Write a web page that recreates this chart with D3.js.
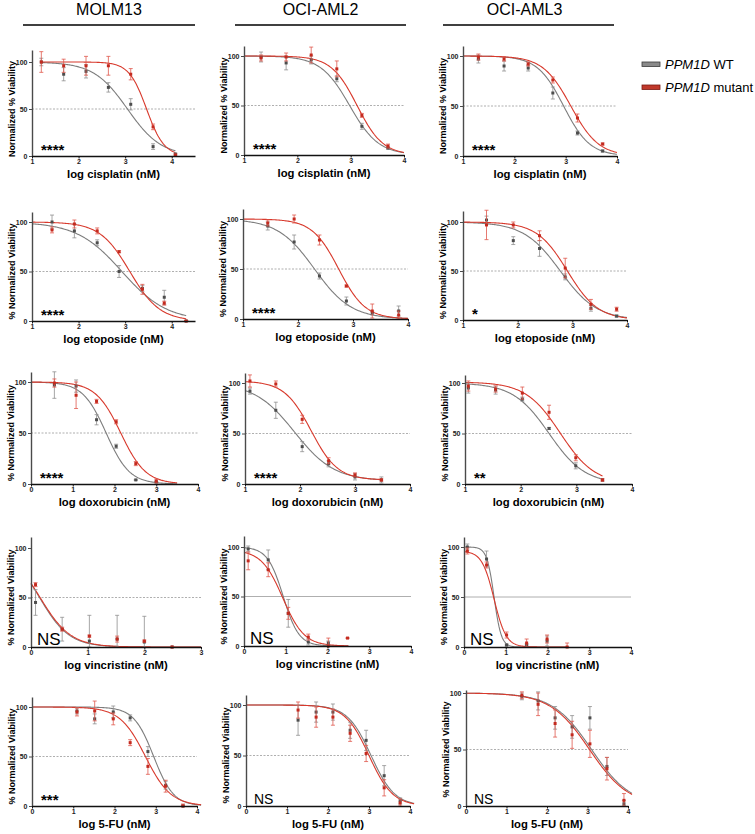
<!DOCTYPE html>
<html>
<head>
<meta charset="utf-8">
<script src="https://cdn.jsdelivr.net/npm/d3@7"></script>
<style>
body { margin: 0; background: #fff; }
svg { font-family: "Liberation Sans", Arial, Helvetica, sans-serif; }
</style>
</head>
<body>
<svg id="chart" width="755" height="834"></svg>
<script>
// ---- data (row = drug, column = cell line) ----
var cellLines = ["MOLM13", "OCI-AML2", "OCI-AML3"];
var drugs = ["cisplatin", "etoposide", "doxorubicin", "vincristine", "5-FU"];
var seriesNames = ["WT", "mutant"];

var yLabels = [
	"Normalized % Viability", "Normalized % Viability", "Normalized % Viability",
	"% Normalized Viability", "% Normalized Viability", "% Normalized Viability",
	"% Normalized Viability", "% Normalized Viability", "% Normalized Viability",
	"% Normalized Viability", "% Normalized Viability", "% Normalized Viability",
	"% Normalized Viability", "% Normalized Viability", "% Normalized Viability"
];

var significance = ["****", "****", "****", "****", "****", "*", "****", "****", "**",
	"NS", "NS", "NS", "***", "NS", "NS"];

var xDomains = [[1, 4.5], [1, 4], [1, 4], [1, 4.5], [1, 4], [1, 4], [0, 4], [1, 4], [1, 4],
	[0, 3], [0, 4], [0, 4], [0, 4], [0, 4], [0, 4]];

var xTicks = [[1, 2, 3, 4], [1, 2, 3, 4], [1, 2, 3, 4], [1, 2, 3, 4], [1, 2, 3, 4], [1, 2, 3, 4],
	[0, 1, 2, 3, 4], [1, 2, 3, 4], [1, 2, 3, 4], [0, 1, 2, 3], [0, 1, 2, 3, 4], [0, 1, 2, 3, 4],
	[0, 1, 2, 3, 4], [0, 1, 2, 3, 4], [0, 1, 2, 3, 4]];

// log dose (nM)
var doses = [
	[1.2, 1.68, 2.16, 2.64, 3.12, 3.6, 4.08],
	[1.32, 1.79, 2.26, 2.74, 3.21, 3.7],
	[1.3, 1.8, 2.27, 2.75, 3.23, 3.72],
	[1.43, 1.91, 2.4, 2.87, 3.37, 3.84, 4.31],
	[1.45, 1.93, 2.39, 2.88, 3.35, 3.83],
	[1.43, 1.92, 2.4, 2.87, 3.34, 3.81],
	[0.56, 1.08, 1.57, 2.04, 2.51, 3.0],
	[1.09, 1.56, 2.04, 2.52, 3.0, 3.48],
	[1.06, 1.55, 2.03, 2.51, 2.99, 3.47],
	[0.08, 0.55, 1.03, 1.52, 2.0, 2.49],
	[0.1, 0.58, 1.06, 1.54, 2.02, 2.48],
	[0.08, 0.54, 1.02, 1.5, 1.99, 2.47],
	[1.09, 1.52, 1.97, 2.38, 2.81, 3.24, 3.66],
	[1.27, 1.71, 2.12, 2.54, 2.93, 3.37, 3.76],
	[1.38, 1.78, 2.2, 2.62, 3.06, 3.48, 3.9]
];

var wtMean = [
	[100, 87, 90, 73, 55, 10, 2],
	[99, 93, 96, 77, 29, 7],
	[97, 90, 88, 63, 23, 5],
	[100, 91, 79, 50, 33, 24, 0],
	[93, 77, 43, 18, 6, 8],
	[102, 81, 73, 44, 12, 4],
	[97, 96, 63, 37, 4, 2],
	[92, 73, 37, 20, 7, 4],
	[95, 93, 84, 55, 18, 4],
	[45, 18, 6, 8, 5, 0],
	[98, 87, 33, 4, 3, null],
	[100, 88, 2, 2, 6, null],
	[96, 88, 95, 89, 55, 21, 0],
	[85, 93, 93, 75, 65, 30, 5],
	[97, 93, 78, 70, 78, 35, 2]
];
var wtErr = [
	[4, 7, 7, 5, 6, 3, 1],
	[5, 7, 4, 3, 3, 1],
	[4, 5, 3, 6, 2, 1],
	[7, 7, 3, 6, 3, 7, 0.5],
	[4, 7, 3, 4, 2, 5],
	[4, 4, 8, 3, 3, 1],
	[13, 6, 5, 2, 0.5, 0.5],
	[3, 8, 5, 3, 3, 3],
	[5, 4, 2, 1, 3, 1],
	[13, 12, 26, 24, 26, 0],
	[3, 10, 14, 3, 2, 0],
	[3, 8, 1, 1, 5, 0],
	[3, 5, 6, 3, 5, 4, 1],
	[15, 10, 8, 8, 10, 10, 3],
	[3, 8, 10, 10, 10, 8, 3]
];
var mutMean = [
	[100, 96, 96, 96, 87, 31, 1],
	[98, 99, 101, 87, 40, 9],
	[99, 97, 92, 76, 38, 12],
	[92, 98, 91, 70, 32, 18, 0],
	[96, 100, 79, 33, 8, 4],
	[97, 97, 86, 53, 16, 11],
	[99, 87, 81, 61, 20, 3],
	[102, 99, 64, 23, 9, 4],
	[97, 94, 90, 71, 26, 4],
	[63, 18, 11, 8, 6, 0],
	[86, 77, 33, 9, 0, 8],
	[96, 82, 12, 4, 8, 0],
	[95, 96, 88, 64, 40, 20, 0],
	[95, 88, 88, 72, 52, 18, 3],
	[98, 90, 73, 63, 55, 33, 5]
];
var mutErr = [
	[11, 7, 10, 10, 6, 3, 1],
	[3, 4, 8, 8, 2, 2],
	[3, 2, 2, 3, 4, 1],
	[3, 4, 3, 1, 5, 2, 0.5],
	[3, 4, 5, 1, 7, 4],
	[15, 3, 5, 10, 5, 2],
	[4, 13, 2, 2, 2, 2],
	[6, 3, 4, 3, 2, 1],
	[5, 3, 6, 7, 3, 1],
	[2, 2, 1, 3, 1, 0],
	[9, 7, 6, 3, 8, 0],
	[3, 3, 3, 4, 4, 4],
	[4, 10, 6, 3, 8, 6, 2],
	[8, 10, 8, 8, 8, 8, 4],
	[3, 10, 12, 12, 12, 10, 6]
];

// fitted dose-response curves: [top, bottom, logIC50, hill], drawn over [from, to]
var wtFit = [
	[100, 0, 3.05, 1.2], [100, 0, 2.98, 1.6], [100, 0, 2.96, 1.7],
	[100, 0, 2.93, 0.9], [100, 0, 2.3, 1.3], [100, 0, 2.78, 1.3],
	[100, 0, 1.8, 1.55], [100, 3, 1.9, 1.2], [100, 0, 2.51, 1.35],
	[100, 0, 0.15, 1.65], [100, 0, 0.94, 2.3], [100, 0, 0.72, 5],
	[100, 0, 2.95, 1.8], [100, 0, 3.05, 1.5], [100, 0, 3.1, 0.9]
];
var mutFit = [
	[100, 0, 3.46, 2.3], [100, 0, 3.12, 1.8], [100, 0, 3.1, 1.6],
	[100, 0, 3.1, 1.35], [100, 0, 2.74, 1.8], [100, 0, 2.91, 1.55],
	[100, 0, 2.15, 1.45], [102, 4, 2.2, 1.8], [101, 0, 2.71, 1.4],
	[100, 0, 0.16, 1.6], [97, 0, 0.93, 1.7], [96, 0, 0.72, 3],
	[100, 0, 2.75, 1.4], [100, 0, 3.0, 1.5], [100, 0, 3.05, 0.9]
];
var fitRange = [
	[1.2, 4.08], [1, 4], [1, 4],
	[1, 4.31], [1, 4], [1, 4],
	[0, 3.5], [1, 3.48], [1, 3.47],
	[0, 3], [0, 2.5], [0, 2.5],
	[0, 4.1], [0, 4.1], [0, 4.1]
];

// ---- layout (pixel boxes of each panel) ----
var layout = [
	{x0: 32, x1: 195, y0: 156, y100: 62, yTop: 50},
	{x0: 244, x1: 404, y0: 155, y100: 56, yTop: 46},
	{x0: 463, x1: 617, y0: 156, y100: 56, yTop: 46},
	{x0: 32, x1: 195, y0: 321, y100: 222, yTop: 212},
	{x0: 243, x1: 408, y0: 319, y100: 219, yTop: 209},
	{x0: 463, x1: 627, y0: 320, y100: 222, yTop: 211},
	{x0: 31, x1: 198, y0: 484, y100: 382, yTop: 372},
	{x0: 245, x1: 410, y0: 484, y100: 383, yTop: 373},
	{x0: 465, x1: 632, y0: 484, y100: 383, yTop: 375},
	{x0: 31, x1: 201, y0: 647, y100: 548, yTop: 537},
	{x0: 244, x1: 411, y0: 646, y100: 547, yTop: 536},
	{x0: 464, x1: 631, y0: 647, y100: 547, yTop: 537},
	{x0: 32, x1: 197, y0: 806, y100: 707, yTop: 697},
	{x0: 246, x1: 410, y0: 806, y100: 705, yTop: 695},
	{x0: 466, x1: 628, y0: 806, y100: 693, yTop: 690}
];

var colors = {
	WT: {line: "#7d7d7d", point: "#4d4d4d", err: "#8f8f8f"},
	mutant: {line: "#d8392c", point: "#c42a1f", err: "#e0584d"}
};

var svg = d3.select("#chart");

function fourPL(p, x) {
	return p[1] + (p[0] - p[1]) / (1 + Math.pow(10, (x - p[2]) * p[3]));
}

//Column headers
var headerX = [[23, 195], [235, 406], [443, 614]];
cellLines.forEach(function(name, i) {
	svg.append("text")
		.attr("x", (headerX[i][0] + headerX[i][1]) / 2 + (i == 2 ? -4 : 0))
		.attr("y", 14.5)
		.attr("text-anchor", "middle")
		.attr("font-size", 16)
		.style("font-weight", "normal")
		.text(name);
	svg.append("line")
		.attr("x1", headerX[i][0]).attr("x2", headerX[i][1])
		.attr("y1", 25).attr("y2", 25)
		.style("stroke", "#000")
		.style("stroke-width", 1.5);
});

//Legend
var legend = svg.append("g").attr("transform", "translate(642,0)");
seriesNames.forEach(function(s, i) {
	legend.append("rect")
		.attr("x", 0).attr("y", 62 + i * 23)
		.attr("width", 18).attr("height", 4.5)
		.style("fill", s == "WT" ? "#8a8a8a" : "#c0392b")
		.style("stroke", s == "WT" ? "#3a3a3a" : "#7a1a12")
		.style("stroke-width", 0.8);
	var t = legend.append("text")
		.attr("x", 23).attr("y", 68.5 + i * 23)
		.style("font-size", "13px");
	t.append("tspan").style("font-style", "italic").text("PPM1D");
	t.append("tspan").text(" " + s);
});

function drawPanel(k) {
	var row = Math.floor(k / 3);
	var box = layout[k];
	var g = svg.append("g").attr("class", "panel");

	var x = d3.scaleLinear().domain(xDomains[k]).range([box.x0, box.x1]);
	var y = d3.scaleLinear().domain([0, 100]).range([box.y0, box.y100]);
	y.domain([0, y.invert(box.yTop)]).range([box.y0, box.yTop]);

	// 50% reference line
	g.append("line")
		.attr("x1", x(xDomains[k][0])).attr("x2", x(xDomains[k][1]))
		.attr("y1", y(50)).attr("y2", y(50))
		.style("stroke", "#9a9a9a")
		.style("stroke-width", 0.8)
		.style("stroke-dasharray", (k == 10 || k == 11) ? null : "2,1.5");

	// fitted curves
	var series = [
		{name: "WT", fit: wtFit[k], mean: wtMean[k], err: wtErr[k]},
		{name: "mutant", fit: mutFit[k], mean: mutMean[k], err: mutErr[k]}
	];
	var line = d3.line()
		.x(function(d) {return x(d);})
		.curve(d3.curveLinear);
	series.forEach(function(s) {
		var xs = d3.range(fitRange[k][0], fitRange[k][1], 0.02).concat([fitRange[k][1]]);
		g.append("path")
			.datum(xs)
			.attr("d", line.y(function(d) {return y(Math.max(0, fourPL(s.fit, d)));}))
			.style("fill", "none")
			.style("stroke", colors[s.name].line)
			.style("stroke-width", 1.1);
	});

	// error bars + points
	series.forEach(function(s) {
		var pts = doses[k].map(function(d, i) {
			return {x: d, m: s.mean[i], e: s.err[i]};
		}).filter(function(p) {return p.m != null;});

		var eb = g.selectAll(null).data(pts).enter().append("g")
			.style("stroke", colors[s.name].err)
			.style("stroke-width", 0.8);
		eb.append("line")
			.attr("x1", function(p) {return x(p.x);})
			.attr("x2", function(p) {return x(p.x);})
			.attr("y1", function(p) {return y(Math.max(0, p.m - p.e));})
			.attr("y2", function(p) {return y(p.m + p.e);});
		eb.append("line")
			.attr("x1", function(p) {return x(p.x) - 2;})
			.attr("x2", function(p) {return x(p.x) + 2;})
			.attr("y1", function(p) {return y(p.m + p.e);})
			.attr("y2", function(p) {return y(p.m + p.e);});
		eb.append("line")
			.attr("x1", function(p) {return x(p.x) - 2;})
			.attr("x2", function(p) {return x(p.x) + 2;})
			.attr("y1", function(p) {return y(Math.max(0, p.m - p.e));})
			.attr("y2", function(p) {return y(Math.max(0, p.m - p.e));});

		g.selectAll(null).data(pts).enter().append("rect")
			.attr("x", function(p) {return x(p.x) - 1.5;})
			.attr("y", function(p) {return y(p.m) - 1.5;})
			.attr("width", 3).attr("height", 3)
			.style("fill", colors[s.name].point);
	});

	// axes
	var yAxis = g.append("g")
		.attr("transform", "translate(" + box.x0 + ",0)")
		.call(d3.axisLeft(y).tickValues([0, 50, 100]).tickFormat(d3.format("d"))
			.tickSize(3).tickPadding(1.5).tickSizeOuter(0));
	yAxis.select(".domain").style("stroke", "#4a4a4a").style("stroke-width", 1.4);
	yAxis.selectAll(".tick line").style("stroke", "#4a4a4a").style("stroke-width", 1);

	var xAxis = g.append("g")
		.attr("transform", "translate(0," + box.y0 + ")")
		.call(d3.axisBottom(x).tickValues(xTicks[k]).tickFormat(d3.format("d"))
			.tickSize(2.5).tickPadding(1).tickSizeOuter(0));
	xAxis.select(".domain").style("stroke", "#111").style("stroke-width", 1.5);
	xAxis.selectAll(".tick line").style("stroke", "#111");

	g.selectAll(".tick text")
		.style("font-family", "'Liberation Sans', Arial, sans-serif")
		.style("font-size", "7px")
		.style("font-weight", "bold")
		.style("fill", "#222");

	// axis titles
	g.append("text")
		.attr("x", (box.x0 + box.x1) / 2)
		.attr("y", box.y0 + 22)
		.attr("text-anchor", "middle")
		.style("font-size", "11.3px")
		.style("font-weight", "bold")
		.text("log " + drugs[row] + " (nM)");

	g.append("text")
		.attr("transform", "translate(" + (box.x0 - 20) + "," + ((box.y0 + box.y100) / 2) + ") rotate(-90)")
		.attr("text-anchor", "middle")
		.attr("dy", "0.35em")
		.style("font-size", "9px")
		.style("font-weight", "bold")
		.text(yLabels[k]);

	// significance
	var sig = significance[k];
	if (sig == "NS") {
		g.append("text")
			.attr("x", box.x0 + (row == 3 ? 6 : 8))
			.attr("y", box.y0 - 2)
			.style("font-size", row == 3 ? "17px" : "14px")
			.text(sig);
	} else {
		g.append("text")
			.attr("x", box.x0 + 9)
			.attr("y", box.y0 - 1)
			.style("font-size", "15px")
			.style("font-weight", "bold")
			.text(sig);
	}
}

for (var k = 0; k < 15; k++) {
	drawPanel(k);
}
</script>
</body>
</html>
